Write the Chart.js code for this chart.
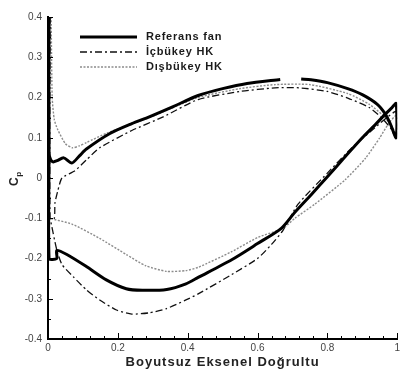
<!DOCTYPE html>
<html>
<head>
<meta charset="UTF-8">
<title>Cp dağılımı</title>
<script src="https://cdn.jsdelivr.net/npm/chart.js@4.4.0/dist/chart.umd.min.js"></script>
<style>
    html, body { margin: 0; padding: 0; background: #fff; overflow: hidden; }
</style>
</head>
<body>
<canvas id="cp-chart" width="403" height="369"></canvas>
<script>
    // Referans fan: üst yüzey ön kenardan firar kenarına, sonra alt yüzey geri
    const refX = [0.003, 0.003, 0.008, 0.015, 0.026, 0.045, 0.068, 0.09, 0.11, 0.176, 0.24, 0.29, 0.36, 0.43, 0.50, 0.57, 0.665, 0.69, 0.725, 0.753, 0.80, 0.858, 0.90, 0.943, 0.965, 0.98, 0.997,
                  0.997, 0.985, 0.965, 0.94, 0.90, 0.85, 0.80, 0.753, 0.707, 0.668, 0.60, 0.526, 0.43, 0.395, 0.34, 0.27, 0.224, 0.167, 0.11, 0.054, 0.025, 0.025, 0.003, 0.003];
    const refY = [0.4, 0.06, 0.045, 0.04, 0.043, 0.05, 0.037, 0.055, 0.072, 0.11, 0.135, 0.152, 0.178, 0.205, 0.222, 0.235, 0.245, null, 0.246, 0.244, 0.237, 0.222, 0.207, 0.183, 0.16, 0.135, 0.1,
                  0.185, 0.175, 0.158, 0.135, 0.1, 0.052, 0.003, -0.042, -0.085, -0.125, -0.163, -0.203, -0.247, -0.263, -0.277, -0.279, -0.275, -0.253, -0.22, -0.19, -0.18, -0.2, -0.2, 0.06];

    // İçbükey HK
    const icX = [0.006, 0.006, 0.018, 0.02, 0.028, 0.04, 0.077, 0.11, 0.148, 0.24, 0.33, 0.43, 0.55, 0.65, 0.72, 0.80, 0.86, 0.92, 0.955, 0.98, 0.997,
                 0.997, 0.97, 0.943, 0.87, 0.80, 0.716, 0.673, 0.64, 0.60, 0.526, 0.43, 0.395, 0.338, 0.29, 0.24, 0.196, 0.148, 0.11, 0.072, 0.04, 0.025, 0.006];
    const icY = [0.4, -0.1, -0.1, -0.062, -0.032, 0.0, 0.018, 0.045, 0.075, 0.118, 0.152, 0.195, 0.215, 0.224, 0.224, 0.215, 0.198, 0.175, 0.15, 0.125, 0.1,
                 0.165, 0.15, 0.13, 0.075, 0.012, -0.065, -0.13, -0.165, -0.2, -0.24, -0.288, -0.303, -0.325, -0.335, -0.338, -0.328, -0.303, -0.278, -0.245, -0.215, -0.178, -0.1];

    // Dışbükey HK
    const disX = [0.009, 0.012, 0.018, 0.028, 0.05, 0.07, 0.09, 0.11, 0.17, 0.29, 0.43, 0.55, 0.65, 0.75, 0.858, 0.92, 0.96, 0.985, 0.997,
                  0.997, 0.975, 0.95, 0.91, 0.85, 0.764, 0.707, 0.673, 0.60, 0.526, 0.43, 0.395, 0.34, 0.28, 0.224, 0.148, 0.07, 0.003];
    const disY = [0.4, 0.2, 0.145, 0.12, 0.085, 0.075, 0.08, 0.088, 0.112, 0.15, 0.2, 0.222, 0.232, 0.232, 0.21, 0.183, 0.155, 0.128, 0.11,
                  0.155, 0.135, 0.1, 0.05, -0.005, -0.065, -0.1, -0.125, -0.148, -0.183, -0.222, -0.23, -0.232, -0.218, -0.19, -0.15, -0.115, -0.1];

    const seriesNames = ['Referans fan', 'İçbükey HK', 'Dışbükey HK'];
    const xTicks = [0, 0.2, 0.4, 0.6, 0.8, 1];
    const yTicks = [-0.4, -0.3, -0.2, -0.1, 0, 0.1, 0.2, 0.3, 0.4];
    const xTitle = 'Boyutsuz Eksenel Doğrultu';

    const FONT = '"Liberation Sans", Arial, sans-serif';

    function toPoints(xs, ys) {
        return xs.map((x, i) => ({ x: x, y: ys[i] }));
    }

    // içe dönük ana ve ara çentikler
    const innerTicks = {
        id: 'innerTicks',
        afterDraw(chart) {
            const { ctx, chartArea: a, scales: { x, y } } = chart;
            ctx.save();
            ctx.strokeStyle = '#000';
            ctx.lineWidth = 1;
            for (let i = 0; i <= 25; i++) {
                const px = Math.round(x.getPixelForValue(i * 0.04)) + 0.5;
                const len = i % 5 === 0 ? 6 : 3;
                ctx.beginPath();
                ctx.moveTo(px, a.bottom);
                ctx.lineTo(px, a.bottom - len);
                ctx.stroke();
            }
            for (let i = -8; i <= 8; i++) {
                const py = Math.round(y.getPixelForValue(i * 0.05)) + 0.5;
                const len = i % 2 === 0 ? 5 : 3;
                ctx.beginPath();
                ctx.moveTo(a.left, py);
                ctx.lineTo(a.left + len, py);
                ctx.stroke();
            }
            ctx.restore();
        }
    };

    // eksen başlıkları (Cp alt indisli) ve grafik içi açıklama
    const labels = {
        id: 'labels',
        afterDraw(chart) {
            const { ctx, chartArea: a } = chart;
            ctx.save();
            ctx.fillStyle = '#222';
            ctx.font = 'bold 13px ' + FONT;
            ctx.letterSpacing = '1px';
            ctx.textAlign = 'center';
            ctx.textBaseline = 'alphabetic';
            ctx.fillText(xTitle, (a.left + a.right) / 2, 366);
            ctx.restore();

            ctx.save();
            ctx.fillStyle = '#222';
            ctx.translate(18, 186);
            ctx.rotate(-Math.PI / 2);
            ctx.font = 'bold 12px ' + FONT;
            ctx.textBaseline = 'alphabetic';
            ctx.fillText('C', 0, 0);
            const cw = ctx.measureText('C').width;
            ctx.font = 'bold 8px ' + FONT;
            ctx.fillText('p', cw + 0.5, 3);
            ctx.restore();

            chart.data.datasets.forEach((ds, row) => {
                const ly = 37 + row * 15;
                ctx.save();
                ctx.strokeStyle = ds.borderColor;
                ctx.lineWidth = ds.borderWidth;
                ctx.setLineDash(ds.borderDash || []);
                ctx.beginPath();
                ctx.moveTo(80, ly);
                ctx.lineTo(137, ly);
                ctx.stroke();
                ctx.setLineDash([]);
                ctx.fillStyle = '#1a1a1a';
                ctx.font = 'bold 11px ' + FONT;
                ctx.letterSpacing = '0.8px';
                ctx.textBaseline = 'middle';
                ctx.fillText(ds.label, 146, ly);
                ctx.restore();
            });
        }
    };

    new Chart(document.getElementById('cp-chart'), {
        type: 'scatter',
        data: {
            datasets: [
                {
                    label: seriesNames[0],
                    data: toPoints(refX, refY),
                    showLine: true,
                    borderColor: '#000',
                    borderWidth: 3,
                    pointRadius: 0,
                    tension: 0.25
                },
                {
                    label: seriesNames[1],
                    data: toPoints(icX, icY),
                    showLine: true,
                    borderColor: '#111',
                    borderWidth: 1.3,
                    borderDash: [7, 3, 2, 3],
                    pointRadius: 0,
                    tension: 0.2
                },
                {
                    label: seriesNames[2],
                    data: toPoints(disX, disY),
                    showLine: true,
                    borderColor: '#8c8c8c',
                    borderWidth: 1.4,
                    borderDash: [2, 1.5],
                    pointRadius: 0,
                    tension: 0.2
                }
            ]
        },
        options: {
            responsive: false,
            animation: false,
            layout: {
                autoPadding: false,
                padding: { top: 17, right: 0, bottom: 0, left: 0 }
            },
            plugins: {
                legend: { display: false },
                tooltip: { enabled: false }
            },
            scales: {
                x: {
                    type: 'linear',
                    min: 0,
                    max: 1,
                    afterFit: s => { s.height = 30; },
                    afterBuildTicks: s => { s.ticks = xTicks.map(v => ({ value: v })); },
                    grid: { display: false, drawTicks: false },
                    border: { display: true, color: '#000', width: 2 },
                    ticks: {
                        padding: 3,
                        color: '#444',
                        font: { family: FONT, size: 10 },
                        callback: v => (v === 0 || v === 1) ? String(v) : v.toFixed(1)
                    }
                },
                y: {
                    type: 'linear',
                    min: -0.4,
                    max: 0.4,
                    afterFit: s => { s.width = 48; },
                    afterBuildTicks: s => { s.ticks = yTicks.map(v => ({ value: v })); },
                    grid: { display: false, drawTicks: false },
                    border: { display: true, color: '#000', width: 2 },
                    ticks: {
                        padding: 6,
                        color: '#444',
                        font: { family: FONT, size: 10 },
                        callback: v => Math.abs(v) < 1e-9 ? '0' : v.toFixed(1)
                    }
                }
            }
        },
        plugins: [innerTicks, labels]
    });
</script>
</body>
</html>
